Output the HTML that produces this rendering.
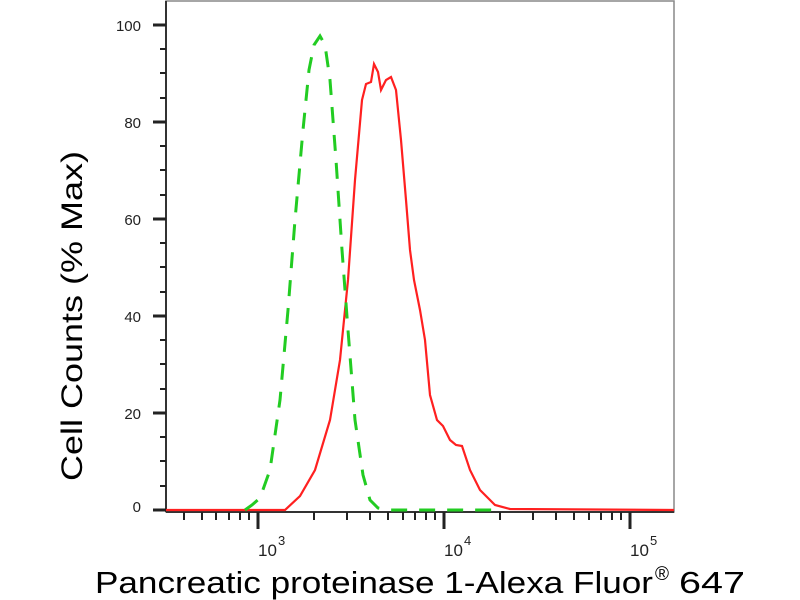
<!DOCTYPE html><html><head><style>body{margin:0;background:#fff}svg{display:block}</style></head><body>
<svg width="800" height="600" xmlns="http://www.w3.org/2000/svg" font-family="Liberation Sans, Arial, sans-serif">
<rect x="166" y="1" width="508" height="511" fill="none" stroke="#888" stroke-width="1.5"/>
<line x1="166" y1="1" x2="166" y2="512" stroke="#333" stroke-width="2"/>
<line x1="166" y1="512" x2="674" y2="512" stroke="#333" stroke-width="2"/>
<g stroke="#222" stroke-width="2">
<line x1="153" y1="25" x2="166" y2="25" stroke-width="3"/><line x1="153" y1="122" x2="166" y2="122" stroke-width="3"/><line x1="153" y1="219" x2="166" y2="219" stroke-width="3"/><line x1="153" y1="316" x2="166" y2="316" stroke-width="3"/><line x1="153" y1="413" x2="166" y2="413" stroke-width="3"/><line x1="153" y1="510" x2="166" y2="510" stroke-width="3"/>
<line x1="160" y1="49" x2="166" y2="49"/><line x1="160" y1="73" x2="166" y2="73"/><line x1="160" y1="98" x2="166" y2="98"/><line x1="160" y1="146" x2="166" y2="146"/><line x1="160" y1="170" x2="166" y2="170"/><line x1="160" y1="195" x2="166" y2="195"/><line x1="160" y1="243" x2="166" y2="243"/><line x1="160" y1="267" x2="166" y2="267"/><line x1="160" y1="292" x2="166" y2="292"/><line x1="160" y1="340" x2="166" y2="340"/><line x1="160" y1="364" x2="166" y2="364"/><line x1="160" y1="389" x2="166" y2="389"/><line x1="160" y1="437" x2="166" y2="437"/><line x1="160" y1="461" x2="166" y2="461"/><line x1="160" y1="486" x2="166" y2="486"/>
<line x1="258" y1="512" x2="258" y2="529" stroke-width="3"/><line x1="444" y1="512" x2="444" y2="529" stroke-width="3"/><line x1="630" y1="512" x2="630" y2="529" stroke-width="3"/>
<line x1="184" y1="512" x2="184" y2="520"/><line x1="202" y1="512" x2="202" y2="520"/><line x1="216" y1="512" x2="216" y2="520"/><line x1="229" y1="512" x2="229" y2="520"/><line x1="240" y1="512" x2="240" y2="520"/><line x1="249" y1="512" x2="249" y2="520"/>
<line x1="314" y1="512" x2="314" y2="520"/><line x1="347" y1="512" x2="347" y2="520"/><line x1="370" y1="512" x2="370" y2="520"/><line x1="388" y1="512" x2="388" y2="520"/><line x1="403" y1="512" x2="403" y2="520"/><line x1="415" y1="512" x2="415" y2="520"/><line x1="426" y1="512" x2="426" y2="520"/><line x1="435" y1="512" x2="435" y2="520"/>
<line x1="500" y1="512" x2="500" y2="520"/><line x1="533" y1="512" x2="533" y2="520"/><line x1="556" y1="512" x2="556" y2="520"/><line x1="574" y1="512" x2="574" y2="520"/><line x1="589" y1="512" x2="589" y2="520"/><line x1="601" y1="512" x2="601" y2="520"/><line x1="612" y1="512" x2="612" y2="520"/><line x1="621" y1="512" x2="621" y2="520"/>
</g>
<g font-size="15" fill="#222" text-anchor="end">
<text x="141" y="31">100</text><text x="141" y="128">80</text><text x="141" y="225">60</text><text x="141" y="322">40</text><text x="141" y="419">20</text><text x="141" y="512">0</text>
</g>
<g font-size="17" fill="#222">
<text x="258" y="556">10</text><text x="278" y="545" font-size="13">3</text>
<text x="444" y="556">10</text><text x="464" y="545" font-size="13">4</text>
<text x="630" y="556">10</text><text x="650" y="545" font-size="13">5</text>
</g>
<polyline fill="none" stroke="#ff2020" stroke-width="2.2" points="166,510 285,510 300,496 315,470 330,420 340,360 348,280 355,180 362,100 366,84 371,82 374,64 378,72 381,90 386,80 391,77 396,90 401,140 406,200 410,250 414,280 420,310 425,340 430,395 437,420 443,426 450,440 456,445 462,446 470,470 480,490 495,505 510,509 674,510"/>
<polyline fill="none" stroke="#22cc22" stroke-width="3" stroke-dasharray="16,12" points="245,510 252,505 260,498 270,470 280,400 288,310 295,220 303,130 309,70 314,45 320,36 325,45 330,80 336,160 342,250 348,330 355,420 363,475 370,500 378,508 390,510 500,510"/>
<text transform="translate(82,316) rotate(-90)" font-size="30" text-anchor="middle" fill="#000" textLength="330" lengthAdjust="spacingAndGlyphs">Cell Counts (% Max)</text>
<text x="95" y="593" font-size="31" fill="#000" textLength="558" lengthAdjust="spacingAndGlyphs">Pancreatic proteinase 1-Alexa Fluor</text>
<text x="655" y="580" font-size="19" fill="#000">®</text>
<text x="679" y="593" font-size="31" fill="#000" textLength="66" lengthAdjust="spacingAndGlyphs">647</text>
</svg></body></html>
